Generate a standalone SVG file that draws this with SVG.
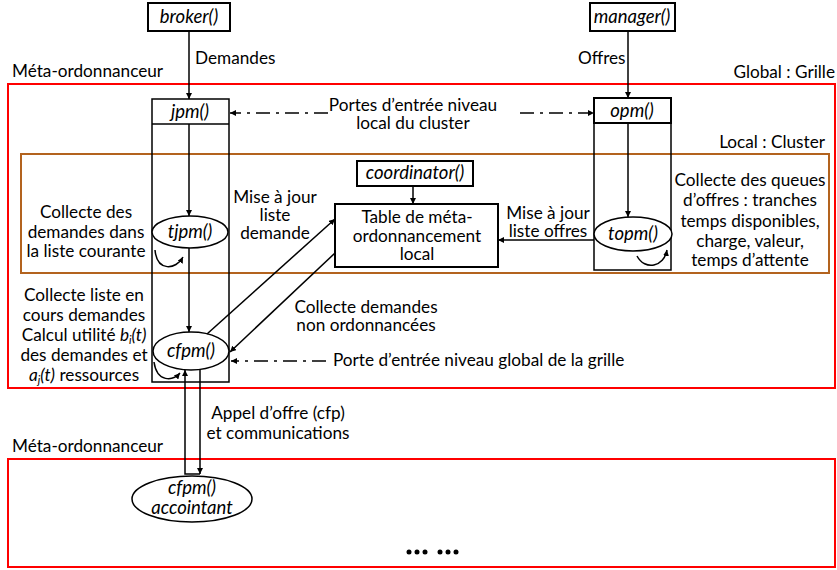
<svg xmlns="http://www.w3.org/2000/svg" width="837" height="570" viewBox="0 0 837 570">
<style>
text{font-family:Lato,"Liberation Sans",sans-serif;font-size:17.2px;fill:#000}
.c{text-anchor:middle}
.i{font-style:italic}
.n{font-size:18.5px}
.box{fill:#fff;stroke:#000;stroke-width:2}
.col{fill:none;stroke:#000;stroke-width:1.5}
.ell{fill:#fff;stroke:#000;stroke-width:1.5}
.red{fill:none;stroke:#ff0000;stroke-width:2}
.brown{fill:none;stroke:#b3631e;stroke-width:2}
.ln{fill:none;stroke:#000;stroke-width:1.5}
.arr{marker-end:url(#ah)}
.dd{stroke-dasharray:14 6 3 6}
</style>
<defs>
<marker id="ah" viewBox="0 0 10 10" refX="10" refY="5" markerWidth="6" markerHeight="6" markerUnits="userSpaceOnUse" orient="auto">
<path d="M0,0 L10,5 L0,10 z" fill="#000"/>
</marker>
</defs>

<g id="regions">
<rect class="red" x="8" y="84" width="827" height="304"/>
<rect class="brown" x="21" y="154" width="808" height="119"/>
<rect class="red" x="8" y="459" width="827" height="108"/>
<text x="12" y="77">Méta-ordonnanceur</text>
<text x="835" y="78" text-anchor="end">Global : Grille</text>
<text x="825" y="148" text-anchor="end">Local : Cluster</text>
<text x="12" y="452">Méta-ordonnanceur</text>
</g>

<g id="jpm-column">
<rect class="col" x="152" y="99" width="77" height="283"/>
<line class="col" x1="152" y1="124" x2="229" y2="124"/>
<text class="c i n" x="190" y="118">jpm()</text>
</g>

<g id="opm-column">
<rect class="col" x="594" y="98" width="77" height="172"/>
<rect fill="none" stroke="#000" stroke-width="2" x="594" y="98" width="77" height="25"/>
<text class="c i n" x="632" y="117">opm()</text>
</g>

<g id="broker">
<rect class="box" x="148" y="3" width="82" height="28"/>
<text class="c i n" x="189" y="23">broker()</text>
</g>

<g id="manager">
<rect class="box" x="590" y="3" width="85" height="28"/>
<text class="c i n" x="632" y="23">manager()</text>
</g>

<g id="coordinator">
<rect class="box" x="357" y="161" width="116" height="25"/>
<text class="c i n" x="415" y="179">coordinator()</text>
</g>

<g id="table">
<rect class="box" x="335" y="204" width="163" height="63"/>
<text class="c" x="417" y="223">Table de méta-</text>
<text class="c" x="417" y="242">ordonnancement</text>
<text class="c" x="417" y="260">local</text>
</g>

<g id="tjpm">
<ellipse class="ell" cx="190" cy="232" rx="38" ry="16"/>
<text class="c i n" x="190" y="238">tjpm()</text>
</g>

<g id="topm">
<ellipse class="ell" cx="633" cy="234" rx="39" ry="17"/>
<text class="c i n" x="633" y="240">topm()</text>
</g>

<g id="cfpm">
<ellipse class="ell" cx="191" cy="351" rx="38" ry="19"/>
<text class="c i n" x="191" y="357">cfpm()</text>
</g>

<g id="cfpm-accointant">
<ellipse class="ell" cx="192" cy="499" rx="60" ry="23"/>
<text class="c i n" x="192" y="494">cfpm()</text>
<text class="c i n" x="192" y="514">accointant</text>
</g>

<g id="connectors">
<line class="ln arr" x1="189" y1="32" x2="189" y2="99"/>
<line class="ln arr" x1="628" y1="32" x2="628" y2="98"/>
<line class="ln arr dd" x1="328" y1="113" x2="230" y2="113"/>
<line class="ln arr dd" x1="520" y1="113" x2="594" y2="113"/>
<line class="ln arr" x1="189" y1="124" x2="189" y2="216"/>
<line class="ln arr" x1="189" y1="248" x2="189" y2="332"/>
<path class="ln arr" d="M155,250 C157,272 176,270 183,257"/>
<line class="ln arr" x1="413" y1="186" x2="413" y2="204"/>
<line class="ln arr" x1="207" y1="334" x2="335" y2="219"/>
<line class="ln arr" x1="335" y1="253" x2="230" y2="352"/>
<line class="ln arr" x1="594" y1="240" x2="498" y2="240"/>
<line class="ln arr" x1="628" y1="123" x2="628" y2="217"/>
<path class="ln arr" d="M637,256 C645,271 664,267 667,250"/>
<line class="ln arr dd" x1="326" y1="361" x2="231" y2="361"/>
<path class="ln arr" d="M154,362 C157,383 173,381 180,373"/>
<path class="ln arr" d="M200,474 L185,474 L185,370"/>
<line class="ln arr" x1="200" y1="370" x2="200" y2="474"/>
</g>

<g id="labels">
<text x="195" y="64">Demandes</text>
<text x="578" y="64">Offres</text>
<text class="c" x="413" y="111">Portes d’entrée niveau</text>
<text class="c" x="413" y="129">local du cluster</text>
<text class="c" x="86" y="218">Collecte des</text>
<text class="c" x="86" y="238">demandes dans</text>
<text class="c" x="86" y="257">la liste courante</text>
<text class="c" x="275" y="203">Mise à jour</text>
<text class="c" x="275" y="221">liste</text>
<text class="c" x="275" y="239">demande</text>
<text class="c" x="548" y="219">Mise à jour</text>
<text class="c" x="548" y="237">liste offres</text>
<text class="c" x="750" y="186">Collecte des queues</text>
<text class="c" x="750" y="206">d’offres : tranches</text>
<text class="c" x="750" y="227">temps disponibles,</text>
<text class="c" x="750" y="247">charge, valeur,</text>
<text class="c" x="750" y="266">temps d’attente</text>
<text class="c" x="366" y="313">Collecte demandes</text>
<text class="c" x="366" y="331">non ordonnancées</text>
<text x="333" y="366">Porte d’entrée niveau global de la grille</text>
<text class="c" x="84" y="301">Collecte liste en</text>
<text class="c" x="84" y="321">cours demandes</text>
<text class="c" x="84" y="341">Calcul utilité <tspan class="i">b</tspan><tspan class="i" font-size="11" dy="3">i</tspan><tspan class="i" dy="-3">(t)</tspan></text>
<text class="c" x="84" y="361">des demandes et</text>
<text class="c" x="84" y="381"><tspan class="i">a</tspan><tspan class="i" font-size="11" dy="3">j</tspan><tspan class="i" dy="-3">(t)</tspan> ressources</text>
<text class="c" x="278" y="419">Appel d’offre (cfp)</text>
<text class="c" x="278" y="439">et communications</text>
</g>

<g id="ellipsis" fill="#000">
<circle cx="409" cy="552" r="2.5"/><circle cx="417" cy="552" r="2.5"/><circle cx="425" cy="552" r="2.5"/>
<circle cx="440" cy="552" r="2.5"/><circle cx="448" cy="552" r="2.5"/><circle cx="456" cy="552" r="2.5"/>
</g>
</svg>
